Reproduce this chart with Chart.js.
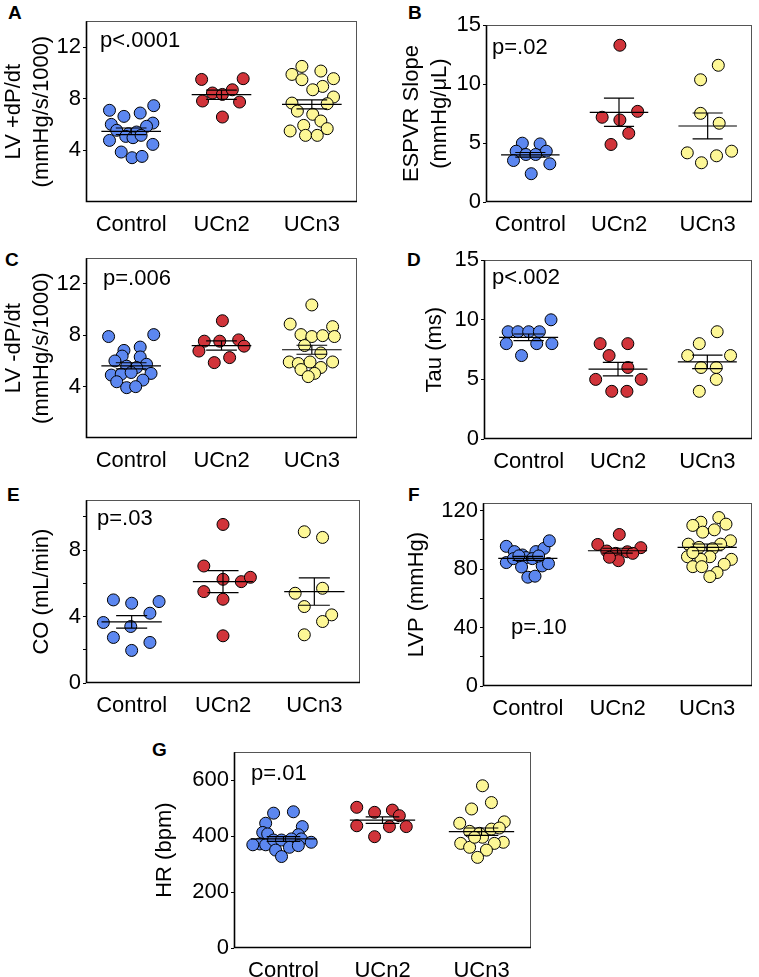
<!DOCTYPE html>
<html>
<head>
<meta charset="utf-8">
<script src="https://cdn.jsdelivr.net/npm/chart.js@4.4.0/dist/chart.umd.min.js"></script>
<style>
  body { margin: 0; background: #fff; width: 759px; height: 977px; position: relative; overflow: hidden; font-family: "Liberation Sans", Arial, sans-serif; }
  canvas { position: absolute; }
  .letter { position: absolute; font-weight: bold; font-size: 19px; line-height: 19px; }
</style>
</head>
<body>
<script>
var groups = ['Control', 'UCn2', 'UCn3'];
var colors = ['#5c87f0', '#d1343a', '#fdf796'];

// every point is [offset from the group centre, value]
var aCtrl = [[-0.24,7.1],[-0.08,6.63],[0.10,6.89],[0.25,7.46],[-0.22,6.01],[0.24,6.11],[0.17,5.86],[-0.16,5.55],[-0.03,5.29],[0.06,5.42],[-0.24,4.77],[-0.06,5.08],[0.02,4.98],[0.11,5.16],[0.24,4.46],[-0.11,3.87],[0.01,3.43],[0.12,3.53]];
var aUcn2 = [[-0.22,9.49],[0.24,9.55],[-0.10,8.44],[0.01,8.33],[0.12,8.69],[-0.21,7.82],[0.20,7.74],[0.01,6.58]];
var aUcn3 = [[-0.11,10.5],[-0.22,9.88],[0.10,10.14],[0.24,9.55],[-0.11,9.47],[0.12,8.95],[0.01,8.69],[0.24,8.13],[-0.22,7.66],[0.17,7.61],[-0.16,7.04],[0.01,6.79],[0.10,6.27],[-0.09,5.93],[0.17,5.68],[-0.24,5.5],[-0.07,5.16],[0.06,5.16]];
var aMean = [5.47, 8.31, 7.56];
var aSem = [0.26, 0.36, 0.35];

var bCtrl = [[-0.09,4.99],[0.11,4.93],[-0.16,4.31],[0.18,4.31],[-0.05,4.03],[0.06,4.03],[-0.19,3.52],[0.22,3.24],[0.01,2.4]];
var bUcn2 = [[0.01,13.3],[-0.19,7.19],[0.01,6.96],[0.21,7.69],[0.11,5.83],[-0.09,4.88]];
var bUcn3 = [[0.12,11.6],[-0.08,10.37],[-0.08,7.52],[0.13,6.68],[-0.23,4.17],[-0.07,3.33],[0.10,3.92],[0.27,4.31]];
var bMean = [4.0, 7.61, 6.45];
var bSem = [0.2, 1.2, 1.1];

var cCtrl = [[-0.25,7.9],[0.25,8.05],[-0.08,6.82],[0.10,7.08],[-0.10,6.38],[0.10,6.31],[-0.18,6.0],[0.17,5.74],[-0.05,5.59],[0.06,5.49],[-0.22,4.9],[0.22,5.03],[-0.11,4.97],[0.0,5.1],[-0.16,4.38],[0.13,4.51],[-0.05,3.92],[0.05,4.0]];
var cUcn2 = [[0.01,9.13],[-0.19,7.54],[-0.02,7.54],[0.19,7.64],[0.25,7.15],[-0.25,6.77],[0.09,6.26],[-0.08,5.87]];
var cUcn3 = [[0,10.36],[-0.24,8.87],[0.23,8.67],[-0.12,8.05],[0,7.9],[0.12,7.97],[0.25,7.9],[-0.08,7.2],[0.10,6.62],[-0.25,5.92],[-0.15,5.8],[-0.02,5.92],[0.23,5.92],[-0.12,5.33],[0.10,5.49],[0.03,5.03],[-0.04,4.78]];
var cMean = [5.62, 7.2, 6.87];
var cSem = [0.24, 0.36, 0.35];

var dCtrl = [[-0.23,9.0],[-0.12,9.0],[0,9.0],[0.12,9.0],[0.25,10.0],[-0.25,8.0],[0.09,8.0],[0.26,8.0],[-0.08,7.0]];
var dUcn2 = [[-0.20,8.0],[0.11,8.0],[-0.10,7.0],[0.11,6.0],[-0.25,5.0],[0.26,5.0],[-0.07,4.0],[0.10,4.0]];
var dUcn3 = [[0.11,9.0],[-0.09,8.0],[-0.22,7.0],[0.26,7.0],[-0.07,6.0],[0.10,6.0],[0.10,5.0],[-0.09,4.0]];
var dMean = [8.53, 5.86, 6.47];
var dSem = [0.28, 0.56, 0.56];

var eCtrl = [[-0.20,5.0],[0,4.8],[0.30,4.9],[0.20,4.2],[-0.31,3.64],[-0.01,3.4],[-0.20,2.74],[0.20,2.44],[0,1.96]];
var eUcn2 = [[0,9.54],[-0.21,7.04],[0,6.24],[0.2,6.1],[0.30,6.36],[-0.21,5.5],[0,5.04],[0,2.84]];
var eUcn3 = [[-0.11,9.1],[0.09,8.76],[-0.21,5.4],[0.09,5.7],[-0.11,4.6],[0.19,4.1],[0.09,3.7],[-0.11,2.9]];
var eMean = [3.68, 6.1, 5.5];
var eSem = [0.38, 0.66, 0.82];

var fCtrl = [[-0.24,95.5],[-0.15,91.9],[-0.06,89.6],[-0.02,87.8],[0.09,91.9],[0.18,94.1],[0.24,99.3],[-0.24,84.4],[-0.16,87.1],[-0.07,81.4],[0.05,87.1],[0.16,82.1],[0.23,83.7],[0,74.4],[0.08,75.1],[-0.1,89],[0.12,88.9]];
var fUcn2 = [[0.02,103.6],[-0.22,96.8],[0.26,94.6],[-0.12,92.3],[-0.02,90.7],[0.11,91.8],[0.17,90.7],[0.01,85.7],[-0.09,88]];
var fUcn3 = [[-0.07,112],[0.13,115.2],[-0.16,109.8],[0.21,110.7],[0.08,106.8],[-0.05,105.2],[-0.21,97],[0.26,99.3],[0.15,97],[-0.09,94.8],[0.06,93.9],[-0.22,88.4],[0.27,86.6],[0.03,88.4],[-0.07,86.6],[-0.16,81.6],[-0.06,81.6],[0.19,83.2],[0.11,77.6],[0.03,74.8],[-0.16,91.2]];
var fMean = [87.3, 92.5, 94.8];
var fSem = [1.4, 1.7, 2.3];

var gCtrl = [[-0.10,482],[0.10,487],[-0.18,446],[0.19,434],[-0.21,413],[-0.16,408],[0.15,405],[-0.24,372],[-0.18,369],[-0.10,386],[-0.02,386],[0.08,390],[0.18,390],[0.28,378],[-0.08,350],[0.06,360],[0.15,366],[-0.02,327],[-0.31,369]];
var gUcn2 = [[-0.26,503],[-0.08,485],[0.10,493],[0.17,473],[-0.26,437],[0.07,434],[0.24,434],[-0.08,398]];
var gUcn3 = [[0.01,580],[0.10,520],[-0.10,497],[-0.22,446],[0.23,451],[-0.12,417],[-0.02,410],[0.10,425],[0.18,429],[0.01,396],[-0.21,374],[0.22,378],[-0.12,360],[0.13,374],[0.05,350],[-0.04,324],[-0.07,396]];
var gMean = [390, 457, 416];
var gSem = [8.5, 11.5, 13];

// layout of each panel: box = plot frame [left, top, right, bottom] in page pixels
var panels = [
  { letter: 'A', lx: 8, ly: 3, box: [86, 20, 358, 202], axisW: 86, title: ['LV +dP/dt', '(mmHg/s/1000)'],
    yMax: 14, yTicks: [4, 8, 12], yLabels: [4, 8, 12], p: 'p<.0001', px: 14, py: 20,
    pts: [aCtrl, aUcn2, aUcn3], mean: aMean, sem: aSem },
  { letter: 'B', lx: 408, ly: 3, box: [486, 24, 753, 202], axisW: 88, title: ['ESPVR Slope', '(mmHg/\u03bcL)'],
    yMax: 15, yTicks: [0, 5, 10, 15], yLabels: [0, 5, 10, 15], p: 'p=.02', px: 6, py: 23,
    pts: [bCtrl, bUcn2, bUcn3], mean: bMean, sem: bSem },
  { letter: 'C', lx: 5, ly: 250, box: [86, 257, 358, 438], axisW: 86, title: ['LV -dP/dt', '(mmHg/s/1000)'],
    yMax: 14, yTicks: [4, 8, 12], yLabels: [4, 8, 12], p: 'p=.006', px: 17, py: 21,
    pts: [cCtrl, cUcn2, cUcn3], mean: cMean, sem: cSem },
  { letter: 'D', lx: 407, ly: 250, box: [484, 259, 753, 439], axisW: 63, title: 'Tau (ms)',
    yMax: 15, yTicks: [0, 5, 10, 15], yLabels: [0, 5, 10, 15], p: 'p<.002', px: 8, py: 18,
    pts: [dCtrl, dUcn2, dUcn3], mean: dMean, sem: dSem },
  { letter: 'E', lx: 7, ly: 485, box: [86, 499, 361, 683], axisW: 58, title: 'CO (mL/min)',
    yMax: 11, yTicks: [0, 2, 4, 6, 8, 10], yLabels: [0, 4, 8], p: 'p=.03', px: 11, py: 19,
    pts: [eCtrl, eUcn2, eUcn3], mean: eMean, sem: eSem },
  { letter: 'F', lx: 408, ly: 485, box: [483, 502, 753, 686], axisW: 80, title: 'LVP (mmHg)',
    yMax: 125, yTicks: [0, 20, 40, 60, 80, 100, 120], yLabels: [0, 40, 80, 120], p: 'p=.10', px: 28, py: 125,
    pts: [fCtrl, fUcn2, fUcn3], mean: fMean, sem: fSem },
  { letter: 'G', lx: 152, ly: 740, box: [234, 751, 532, 948], axisW: 83, title: 'HR (bpm)',
    yMax: 700, yTicks: [0, 200, 400, 600], yLabels: [0, 200, 400, 600], p: 'p=.01', px: 17, py: 22,
    pts: [gCtrl, gUcn2, gUcn3], mean: gMean, sem: gSem }
];

var FONT = '"Liberation Sans", Arial, Helvetica, sans-serif';
var PAD_TOP = 14, PAD_RIGHT = 6, X_AXIS_H = 30;

var framePlugin = {
  id: 'frame',
  afterDraw: function (chart, args, opts) {
    var a = chart.chartArea, ctx = chart.ctx;
    ctx.save();
    ctx.strokeStyle = '#555';
    ctx.lineWidth = 1;
    ctx.strokeRect(Math.round(a.left) + 0.5, Math.round(a.top) + 0.5, Math.round(a.right - a.left) - 1, Math.round(a.bottom - a.top) - 1);
    ctx.strokeStyle = '#000';
    ctx.lineWidth = 1.6;
    ctx.beginPath();
    ctx.moveTo(a.left + 0.5, a.top);
    ctx.lineTo(a.left + 0.5, a.bottom - 0.5);
    ctx.lineTo(a.right, a.bottom - 0.5);
    ctx.stroke();
    ctx.fillStyle = '#000';
    ctx.font = '22px ' + FONT;
    ctx.textBaseline = 'middle';
    ctx.textAlign = 'left';
    ctx.fillText(opts.text, a.left + opts.dx, a.top + opts.dy);
    ctx.restore();
  }
};

function meanSemLine(c, m, s) {
  return [
    { x: c - 0.33, y: m }, { x: c + 0.33, y: m }, { x: c, y: null },
    { x: c - 0.17, y: m + s }, { x: c + 0.17, y: m + s }, { x: c, y: null },
    { x: c - 0.17, y: m - s }, { x: c + 0.17, y: m - s }, { x: c, y: null },
    { x: c, y: m + s }, { x: c, y: m - s }
  ];
}

panels.forEach(function (pn) {
  var lab = document.createElement('div');
  lab.className = 'letter';
  lab.style.left = pn.lx + 'px';
  lab.style.top = pn.ly + 'px';
  lab.textContent = pn.letter;
  document.body.appendChild(lab);

  var left = pn.box[0] - pn.axisW;
  var top = pn.box[1] - PAD_TOP;
  var w = pn.box[2] - left + PAD_RIGHT;
  var h = pn.box[3] - top + X_AXIS_H;
  var cv = document.createElement('canvas');
  cv.width = w; cv.height = h;
  cv.style.left = left + 'px'; cv.style.top = top + 'px';
  cv.style.width = w + 'px'; cv.style.height = h + 'px';
  document.body.appendChild(cv);

  var datasets = [];
  groups.forEach(function (g, i) {
    var c = i + 0.5;
    datasets.push({
      type: 'line',
      data: meanSemLine(c, pn.mean[i], pn.sem[i]),
      borderColor: '#000',
      borderWidth: 1.2,
      pointRadius: 0,
      spanGaps: false,
      fill: false,
      order: 1
    });
    datasets.push({
      type: 'scatter',
      data: pn.pts[i].map(function (p) { return { x: c + p[0], y: p[1] }; }),
      pointRadius: 6,
      pointBackgroundColor: colors[i],
      pointBorderColor: '#000',
      pointBorderWidth: 1,
      order: 2
    });
  });

  new Chart(cv.getContext('2d'), {
    type: 'scatter',
    data: { datasets: datasets },
    options: {
      responsive: false,
      animation: false,
      devicePixelRatio: 1,
      events: [],
      layout: { padding: { left: 0, top: PAD_TOP, right: PAD_RIGHT, bottom: 0 } },
      plugins: {
        legend: { display: false },
        tooltip: { enabled: false },
        frame: { text: pn.p, dx: pn.px, dy: pn.py }
      },
      scales: {
        x: {
          type: 'linear', min: 0, max: 3,
          grid: { display: false },
          border: { display: false },
          afterBuildTicks: function (s) { s.ticks = groups.map(function (g, i) { return { value: i + 0.5 }; }); },
          afterFit: function (s) { s.height = X_AXIS_H; },
          ticks: {
            padding: 2,
            color: '#000',
            font: { size: 22, family: FONT },
            maxRotation: 0,
            autoSkip: false,
            callback: function (v) { return groups[Math.floor(v)]; }
          }
        },
        y: {
          min: 0, max: pn.yMax,
          grid: { display: true, drawOnChartArea: false, drawTicks: true, tickLength: 3, color: '#000', lineWidth: 1 },
          border: { display: false },
          afterBuildTicks: function (s) { s.ticks = pn.yTicks.map(function (v) { return { value: v }; }); },
          afterFit: function (s) { s.width = pn.axisW; },
          title: {
            display: true,
            text: pn.title,
            color: '#000',
            padding: { top: 0, bottom: 0 },
            font: { size: 22, family: FONT, lineHeight: 28 / 22 }
          },
          ticks: {
            padding: 2,
            color: '#000',
            font: { size: 22, family: FONT },
            callback: function (v) { return pn.yLabels.indexOf(v) >= 0 ? String(v) : ''; }
          }
        }
      }
    },
    plugins: [framePlugin]
  });
});
</script>
</body>
</html>
